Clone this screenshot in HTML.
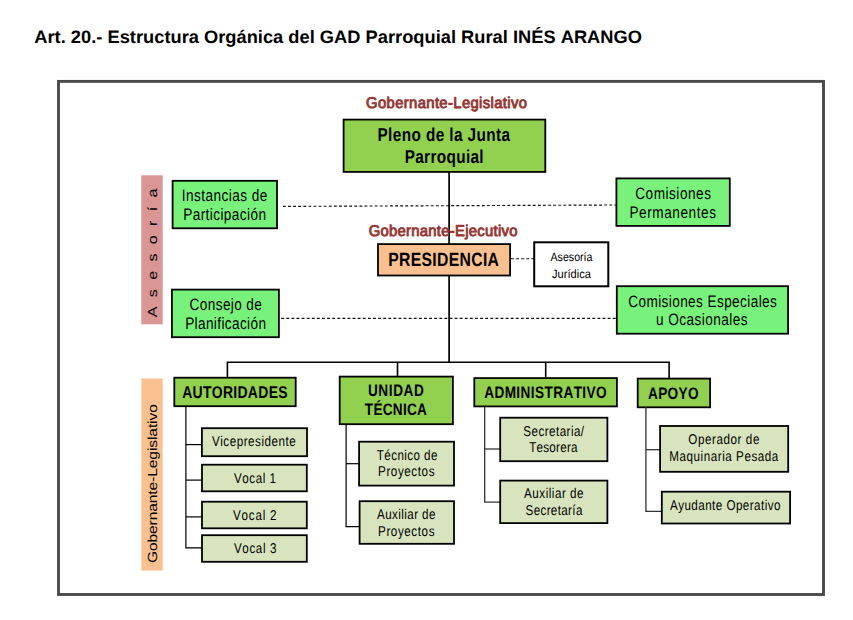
<!DOCTYPE html>
<html lang="es">
<head>
<meta charset="utf-8">
<title>Estructura Orgánica del GAD Parroquial Rural INÉS ARANGO</title>
<style>
html,body{margin:0;padding:0;background:#fff;}
body{width:853px;height:620px;overflow:hidden;}
svg{display:block;font-family:"Liberation Sans",sans-serif;}
text{white-space:pre;font-kerning:none;text-rendering:geometricPrecision;}
</style>
</head>
<body>
<svg width="853" height="620" viewBox="0 0 853 620">
<rect x="0" y="0" width="853" height="620" fill="#fff"/>
<text x="34.30" y="42.70" font-size="18" font-weight="bold" fill="#000" textLength="607.70" lengthAdjust="spacingAndGlyphs">Art. 20.- Estructura Orgánica del GAD Parroquial Rural INÉS ARANGO</text>
<rect x="58.50" y="81.40" width="765.00" height="513.10" fill="none" stroke="#4a4a4a" stroke-width="2.9"/>
<path d="M449.10 171.00 L449.10 362.20" fill="none" stroke="#000" stroke-width="1.7"/>
<path d="M227.40 377.00 L227.40 362.20 L669.10 362.20 L669.10 378.00" fill="none" stroke="#000" stroke-width="1.6"/>
<path d="M397.50 362.20 L397.50 376.00" fill="none" stroke="#000" stroke-width="1.6"/>
<path d="M545.70 362.20 L545.70 377.50" fill="none" stroke="#000" stroke-width="1.6"/>
<path d="M282.90 206.40 L616.00 205.00" fill="none" stroke="#111" stroke-width="1.15" stroke-dasharray="2.9 2.2"/>
<path d="M281.20 318.30 L616.00 318.30" fill="none" stroke="#111" stroke-width="1.15" stroke-dasharray="2.9 2.2"/>
<path d="M511.00 258.70 L534.00 258.70" fill="none" stroke="#111" stroke-width="1.15" stroke-dasharray="2.9 2.2"/>
<rect x="141.30" y="175.30" width="21.40" height="149.00" fill="#D99694"/>
<rect x="141.30" y="378.50" width="21.40" height="192.10" fill="#FAC090"/>
<text transform="translate(366.05,108.00) scale(0.95,1)" font-size="15.6" stroke="#943634" stroke-width="0.9" stroke-linejoin="round" fill="#943634" letter-spacing="0.388">Gobernante-Legislativo</text>
<rect x="343.60" y="119.60" width="201.70" height="52.30" fill="#92D050" stroke="#000" stroke-width="1.8"/>
<text transform="translate(377.47,141.00) scale(0.82,1)" font-size="18.7" font-weight="bold" fill="#000" letter-spacing="0.497">Pleno de la Junta</text>
<text transform="translate(404.67,163.00) scale(0.82,1)" font-size="18.7" font-weight="bold" fill="#000" letter-spacing="0.430">Parroquial</text>
<rect x="172.60" y="180.80" width="104.40" height="47.50" fill="#79F27B" stroke="#000" stroke-width="1.8"/>
<text transform="translate(181.74,201.00) scale(0.82,1)" font-size="16.6" fill="#000" letter-spacing="0.544">Instancias de</text>
<text transform="translate(183.18,220.00) scale(0.82,1)" font-size="16.6" fill="#000" letter-spacing="0.495">Participación</text>
<rect x="616.40" y="178.40" width="113.40" height="47.50" fill="#79F27B" stroke="#000" stroke-width="1.8"/>
<text transform="translate(635.21,199.00) scale(0.82,1)" font-size="16.6" fill="#000" letter-spacing="0.633">Comisiones</text>
<text transform="translate(629.38,218.00) scale(0.82,1)" font-size="16.6" fill="#000" letter-spacing="0.689">Permanentes</text>
<text transform="translate(368.65,236.00) scale(0.95,1)" font-size="15.6" stroke="#943634" stroke-width="0.9" stroke-linejoin="round" fill="#943634" letter-spacing="0.306">Gobernante-Ejecutivo</text>
<rect x="378.00" y="244.10" width="132.10" height="31.40" fill="#FAC090" stroke="#000" stroke-width="1.8"/>
<text transform="translate(388.15,266.00) scale(0.82,1)" font-size="19.2" font-weight="bold" fill="#000" letter-spacing="0.398">PRESIDENCIA</text>
<rect x="534.20" y="242.30" width="74.10" height="44.00" fill="#fff" stroke="#000" stroke-width="2"/>
<text x="550.50" y="261.00" font-size="12" fill="#000" textLength="42.00" lengthAdjust="spacingAndGlyphs">Asesoría</text>
<text x="552.00" y="278.00" font-size="12" fill="#000" textLength="39.00" lengthAdjust="spacingAndGlyphs">Jurídica</text>
<rect x="171.90" y="289.60" width="107.00" height="47.60" fill="#79F27B" stroke="#000" stroke-width="1.8"/>
<text transform="translate(189.61,310.00) scale(0.82,1)" font-size="16.6" fill="#000" letter-spacing="0.465">Consejo de</text>
<text transform="translate(185.18,329.00) scale(0.82,1)" font-size="16.6" fill="#000" letter-spacing="0.445">Planificación</text>
<rect x="616.80" y="286.20" width="171.30" height="47.50" fill="#79F27B" stroke="#000" stroke-width="1.8"/>
<text transform="translate(628.21,307.00) scale(0.82,1)" font-size="16.6" fill="#000" letter-spacing="0.486">Comisiones Especiales</text>
<text transform="translate(656.02,325.00) scale(0.82,1)" font-size="16.6" fill="#000" letter-spacing="0.551">u Ocasionales</text>
<rect x="174.30" y="377.70" width="121.40" height="28.50" fill="#92D050" stroke="#000" stroke-width="1.8"/>
<text transform="translate(182.15,398.00) scale(0.82,1)" font-size="17" font-weight="bold" fill="#000" letter-spacing="0.386">AUTORIDADES</text>
<rect x="339.70" y="376.60" width="113.20" height="47.60" fill="#92D050" stroke="#000" stroke-width="1.8"/>
<text transform="translate(367.93,396.00) scale(0.82,1)" font-size="16.6" font-weight="bold" fill="#000" letter-spacing="0.721">UNIDAD</text>
<text transform="translate(364.85,415.00) scale(0.82,1)" font-size="16.6" font-weight="bold" fill="#000" letter-spacing="0.328">TÉCNICA</text>
<rect x="474.30" y="378.10" width="142.60" height="28.30" fill="#92D050" stroke="#000" stroke-width="1.8"/>
<text transform="translate(484.16,398.00) scale(0.82,1)" font-size="16.6" font-weight="bold" fill="#000" letter-spacing="0.497">ADMINISTRATIVO</text>
<rect x="637.70" y="378.60" width="72.40" height="28.70" fill="#92D050" stroke="#000" stroke-width="1.8"/>
<text transform="translate(647.96,399.00) scale(0.82,1)" font-size="16.6" font-weight="bold" fill="#000" letter-spacing="0.441">APOYO</text>
<path d="M185.90 406.00 L185.90 547.80 L202.00 547.80" fill="none" stroke="#000" stroke-width="1.2"/>
<path d="M185.90 444.60 L202.00 444.60" fill="none" stroke="#000" stroke-width="1.2"/>
<path d="M185.90 480.10 L202.00 480.10" fill="none" stroke="#000" stroke-width="1.2"/>
<path d="M185.90 516.90 L202.00 516.90" fill="none" stroke="#000" stroke-width="1.2"/>
<rect x="201.90" y="428.20" width="105.10" height="28.00" fill="#D7E4BD" stroke="#000" stroke-width="1.8"/>
<text transform="translate(211.95,446.00) scale(0.82,1)" font-size="14.2" fill="#000" letter-spacing="0.642">Vicepresidente</text>
<rect x="202.00" y="464.70" width="104.80" height="26.60" fill="#D7E4BD" stroke="#000" stroke-width="1.8"/>
<text transform="translate(233.95,483.00) scale(0.82,1)" font-size="14.2" fill="#000" letter-spacing="0.667">Vocal 1</text>
<rect x="202.00" y="501.70" width="104.80" height="26.60" fill="#D7E4BD" stroke="#000" stroke-width="1.8"/>
<text transform="translate(232.95,520.00) scale(0.82,1)" font-size="14.2" fill="#000" letter-spacing="0.975">Vocal 2</text>
<rect x="202.00" y="535.20" width="104.80" height="26.60" fill="#D7E4BD" stroke="#000" stroke-width="1.8"/>
<text transform="translate(233.95,553.00) scale(0.82,1)" font-size="14.2" fill="#000" letter-spacing="0.757">Vocal 3</text>
<path d="M346.10 424.00 L346.10 526.60 L359.00 526.60" fill="none" stroke="#000" stroke-width="1.2"/>
<path d="M346.10 463.70 L359.00 463.70" fill="none" stroke="#000" stroke-width="1.2"/>
<rect x="359.10" y="441.70" width="94.90" height="43.90" fill="#D7E4BD" stroke="#000" stroke-width="1.8"/>
<text transform="translate(376.74,460.00) scale(0.82,1)" font-size="14.2" fill="#000" letter-spacing="0.518">Técnico de</text>
<text transform="translate(378.04,476.00) scale(0.82,1)" font-size="14.2" fill="#000" letter-spacing="0.717">Proyectos</text>
<rect x="359.60" y="501.20" width="94.40" height="42.60" fill="#D7E4BD" stroke="#000" stroke-width="1.8"/>
<text transform="translate(376.98,519.00) scale(0.82,1)" font-size="14.2" fill="#000" letter-spacing="0.509">Auxiliar de</text>
<text transform="translate(378.04,536.00) scale(0.82,1)" font-size="14.2" fill="#000" letter-spacing="0.717">Proyectos</text>
<path d="M484.70 406.50 L484.70 502.10 L501.00 502.10" fill="none" stroke="#333" stroke-width="1.3"/>
<path d="M484.70 449.00 L501.00 449.00" fill="none" stroke="#333" stroke-width="1.3"/>
<rect x="500.20" y="417.70" width="107.20" height="43.50" fill="#D7E4BD" stroke="#000" stroke-width="1.8"/>
<text transform="translate(523.37,436.00) scale(0.82,1)" font-size="14.2" fill="#000" letter-spacing="0.540">Secretaria/</text>
<text transform="translate(529.24,452.00) scale(0.82,1)" font-size="14.2" fill="#000" letter-spacing="0.291">Tesorera</text>
<rect x="500.20" y="480.60" width="107.20" height="42.50" fill="#D7E4BD" stroke="#000" stroke-width="1.8"/>
<text transform="translate(524.08,498.00) scale(0.82,1)" font-size="14.2" fill="#000" letter-spacing="0.619">Auxiliar de</text>
<text transform="translate(525.57,515.00) scale(0.82,1)" font-size="14.2" fill="#000" letter-spacing="0.422">Secretaría</text>
<path d="M645.90 407.00 L645.90 511.30 L661.00 511.30" fill="none" stroke="#333" stroke-width="1.3"/>
<path d="M645.90 449.70 L660.00 449.70" fill="none" stroke="#333" stroke-width="1.3"/>
<rect x="660.10" y="426.00" width="128.10" height="45.80" fill="#D7E4BD" stroke="#000" stroke-width="1.8"/>
<text transform="translate(688.25,444.00) scale(0.82,1)" font-size="14.2" fill="#000" letter-spacing="0.706">Operador de</text>
<text transform="translate(669.24,461.00) scale(0.82,1)" font-size="14.2" fill="#000" letter-spacing="0.672">Maquinaria Pesada</text>
<rect x="661.80" y="491.70" width="128.30" height="31.80" fill="#D7E4BD" stroke="#000" stroke-width="1.8"/>
<text transform="translate(669.98,510.00) scale(0.82,1)" font-size="14.2" fill="#000" letter-spacing="0.545">Ayudante Operativo</text>
<text transform="translate(156.9,317.2) rotate(-90) translate(-0.03,0.00) scale(1.22,1)" font-size="13.2" fill="#000" letter-spacing="7.621">Asesoría</text>
<text transform="translate(157.3,562.3) rotate(-90) translate(-0.78,0.00) scale(1.18,1)" font-size="13.2" fill="#000" letter-spacing="-0.081">Gobernante-Legislativo</text>
</svg>
</body>
</html>
